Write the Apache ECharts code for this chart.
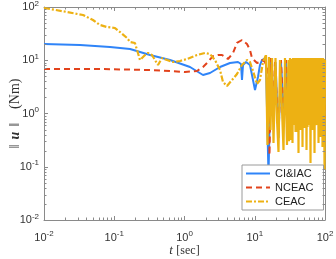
<!DOCTYPE html>
<html><head><meta charset="utf-8">
<script src="https://cdn.jsdelivr.net/npm/echarts@6/dist/echarts.min.js"></script>
<style>html,body{margin:0;padding:0;background:#fff}#c{width:336px;height:259px}</style>
</head><body><div id="c"></div><script>
// ---- data (t in sec, ||u|| in Nm) ----
const seriesNames = ['CI&IAC', 'NCEAC', 'CEAC'];
const blueT = [0.01, 0.0326, 0.087, 0.121, 0.168, 0.323, 0.622, 1.198, 1.834, 2.307, 3.202, 4.443, 5.775, 6.372, 6.583, 6.802, 7.505, 8.557, 9.443, 10.08, 11.12, 11.87, 12.68, 13.54, 14.45, 15.69, 17.03, 18.19, 19.74, 21.78, 23.64, 26.08, 27.85, 29.26, 30.72, 32.8, 35.0, 37.4, 39.95, 42.66, 45.55, 48.64, 51.93, 55.45, 59.21, 63.22, 67.51, 72.09, 76.98, 82.2, 87.71, 93.66, 100];
const blueU = [20.2, 19.3, 17.7, 17.0, 16.3, 12.55, 10.1, 7.47, 5.28, 5.76, 7.47, 8.88, 9.27, 8.51, 4.26, 8.14, 9.27, 8.14, 4.26, 2.76, 4.84, 8.14, 10.1, 10.55, 9.27, 0.070, 10.1, 0.937, 9.27, 0.347, 9.27, 0.755, 10.1, 0.49, 9.27, 0.608, 10.1, 0.755, 9.27, 0.534, 10.1, 0.692, 9.27, 0.582, 10.1, 0.755, 9.27, 0.608, 10.1, 0.823, 9.27, 0.635, 10.1];
const redT = [0.01, 0.0627, 0.323, 0.622, 1.016, 1.507, 1.834, 2.091, 2.544, 2.999, 3.419, 4.161, 4.902, 5.588, 6.583, 7.756, 8.557, 9.14, 10.77, 11.87, 12.68, 13.99, 15.44, 16.22, 17.03, 18.19, 19.42, 21.78, 23.64, 25.66, 27.85, 29.26, 30.72, 32.8, 35.0, 37.4, 39.95, 41.28, 42.66, 45.55, 48.64, 51.93, 55.45, 59.21, 63.22, 67.51, 72.09, 76.98, 82.2, 87.71, 93.66, 100];
const redU = [6.85, 6.85, 6.56, 6.28, 6.02, 6.28, 7.47, 8.88, 12.0, 12.55, 12.55, 10.55, 13.7, 21.1, 24.0, 20.2, 15.6, 11.0, 8.88, 9.27, 10.1, 9.27, 6.02, 0.166, 11.0, 1.16, 9.27, 0.395, 10.1, 0.755, 10.1, 0.49, 10.1, 0.755, 9.27, 0.692, 10.1, 0.49, 9.27, 0.823, 10.1, 0.755, 9.27, 0.823, 10.1, 0.755, 9.27, 0.823, 10.1, 0.755, 9.27, 0.823];
// CEAC: smooth part (dash-dot) and fast-oscillating tail
const yellowT = [0.01, 0.0213, 0.0359, 0.0498, 0.0627, 0.0788, 0.1025, 0.121, 0.152, 0.168, 0.197, 0.211, 0.2325, 0.248, 0.274, 0.302, 0.3446, 0.380, 0.4196, 0.478, 0.564, 0.686, 0.863, 1.085, 1.507, 1.958, 2.307, 2.718, 3.202, 3.532, 4.027, 4.746, 5.588, 6.583, 7.756, 8.557, 9.443, 10.77, 11.87, 13.10, 14.45];
const yellowU = [95.8, 80.6, 70.7, 57.0, 45.9, 42.1, 40.3, 33.9, 26.2, 22.0, 21.1, 15.6, 10.1, 9.27, 12.55, 13.7, 12.55, 10.1, 8.14, 11.0, 10.1, 9.27, 9.68, 10.55, 12.55, 13.7, 13.1, 10.1, 6.56, 3.91, 3.29, 4.26, 5.52, 8.14, 10.1, 9.27, 6.28, 3.58, 4.26, 9.27, 12.55];
const yellowTailT = [14.45, 15.19, 15.95, 16.76, 17.61, 18.49, 19.74, 20.74, 21.78, 22.88, 24.43, 25.66, 26.95, 28.78, 30.22, 30.72, 31.75, 32.27, 32.8, 33.35, 33.9, 34.46, 35.03, 35.61, 36.2, 36.8, 37.41, 38.03, 38.66, 39.3, 39.95, 40.61, 41.28, 41.96, 42.66, 43.37, 44.08, 44.81, 45.55, 46.3, 47.07, 47.85, 48.63, 49.44, 50.26, 51.09, 51.93, 52.79, 53.66, 54.55, 55.45, 56.37, 57.3, 58.25, 59.19, 60.19, 61.18, 62.19, 63.2, 64.27, 65.33, 66.41, 67.49, 68.63, 69.76, 70.91, 72.06, 73.28, 74.49, 75.72, 76.98, 78.25, 79.55, 80.86, 82.14, 83.5, 84.88, 86.29, 87.7, 89.16, 90.64, 92.14, 93.65, 95.2, 96.78, 98.4, 100];
const yellowTailU = [12.55, 0.256, 11.5, 0.49, 11.0, 0.279, 11.0, 0.755, 0.189, 10.1, 1.16, 0.206, 11.0, 0.256, 10.1, 0.3, 11.0, 0.318, 10.1, 0.66, 10.55, 0.279, 11.0, 0.7, 10.1, 0.608, 11.0, 0.45, 10.55, 0.72, 11.0, 0.449, 10.1, 0.181, 11.0, 0.62, 10.55, 0.49, 11.0, 0.7, 10.1, 0.235, 11.0, 0.6, 10.55, 0.534, 11.0, 0.68, 10.1, 0.206, 11.0, 0.56, 10.55, 0.608, 11.0, 0.7, 10.1, 0.1176, 11.0, 0.55, 10.55, 0.49, 11.0, 0.65, 10.1, 0.181, 11.0, 0.6, 10.55, 0.608, 11.0, 0.7, 10.1, 0.279, 11.0, 0.55, 10.55, 0.362, 11.0, 0.65, 10.1, 0.235, 11.0, 0.6, 10.55, 0.087, 10.1];
const xRange = [0.01, 100];
const yRange = [0.01, 100];
const decadeStarts = [0.01, 0.1, 1, 10];
const minorMultipliers = [2, 3, 4, 5, 6, 7, 8, 9];

const zip = (a, b) => a.map((v, i) => [v, b[i]]);
const axisColor = '#8a8a8a';
const labelColor = '#333';
const sans = 'Liberation Sans, Arial, sans-serif';
const serif = 'Liberation Serif, DejaVu Serif, serif';
const colors = ['#2f84f8', '#e2431c', '#edb113'];
function powLabel(v) { const e = Math.round(Math.log10(v)); return '{b|10}{s|' + e + '}'; }
const rich = {
  b: { fontSize: 11, fontFamily: sans, color: labelColor },
  s: { fontSize: 8, fontFamily: sans, color: labelColor, padding: [0, 0, 7, 0] }
};
function mkAxis(pos, range, showLabel, extra) {
  return Object.assign({
    type: 'log', logBase: 10, min: range[0], max: range[1], splitNumber: 4, position: pos,
    nameMoveOverlap: false,
    axisLine: { show: true, onZero: false, lineStyle: { color: axisColor, width: 1 } },
    axisTick: { show: true, inside: true, length: 4, lineStyle: { color: axisColor } },
    axisLabel: { show: showLabel, formatter: powLabel, rich: rich, margin: pos === 'bottom' ? 10 : 5 },
    splitLine: { show: false }, minorTick: { show: false }
  }, extra || {});
}

const chart = echarts.init(document.getElementById('c'), null, { renderer: 'canvas' });
const option = {
  animation: false,
  backgroundColor: '#fff',
  grid: { left: 44, right: 11, top: 7, bottom: 39, containLabel: false, outerBoundsMode: 'none' },
  xAxis: [
    mkAxis('bottom', xRange, true, {
      name: '{i|t} {n|[sec]}', nameLocation: 'middle', nameGap: 24,
      nameTextStyle: { rich: { i: { fontFamily: serif, fontStyle: 'italic', fontSize: 13, color: '#333' }, n: { fontFamily: serif, fontSize: 12, color: '#333' } } }
    }),
    mkAxis('top', xRange, false)
  ],
  yAxis: [
    mkAxis('left', yRange, true, {
      name: '{n|‖}{i|u}{n|‖}{g| }{n|(Nm)}', nameLocation: 'middle', nameGap: 22, nameRotate: 90,
      nameTextStyle: { rich: {
        i: { fontFamily: serif, fontStyle: 'italic', fontWeight: 'bold', fontSize: 14, color: '#333', padding: [0, 5] },
        n: { fontFamily: serif, fontSize: 14, color: '#333' },
        g: { fontSize: 14, padding: [0, 5] } } }
    }),
    mkAxis('right', yRange, false)
  ],
  legend: {
    orient: 'vertical', left: 242, top: 165, backgroundColor: '#fff',
    borderColor: '#9a9a9a', borderWidth: 1, borderRadius: 0, padding: [3, 10, 3, 3],
    itemGap: 3, itemWidth: 24, itemHeight: 12,
    itemStyle: { opacity: 0 },
    textStyle: { fontSize: 11, fontFamily: sans, color: '#222' },
    data: seriesNames
  },
  series: [
    { name: seriesNames[0], type: 'line', symbol: 'none', data: zip(blueT, blueU),
      lineStyle: { color: colors[0], width: 2 }, itemStyle: { color: colors[0] } },
    { name: seriesNames[1], type: 'line', symbol: 'none', data: zip(redT, redU),
      lineStyle: { color: colors[1], width: 2, type: [6, 4] }, itemStyle: { color: colors[1] } },
    { name: seriesNames[2], type: 'line', symbol: 'none', data: zip(yellowT, yellowU),
      lineStyle: { color: colors[2], width: 2.2, type: [6, 2, 2, 2] }, itemStyle: { color: colors[2] } },
    { name: seriesNames[2], type: 'line', symbol: 'none', data: zip(yellowTailT, yellowTailU),
      lineStyle: { color: colors[2], width: 2.2 }, itemStyle: { color: colors[2] } }
  ]
};
chart.setOption(option);

// minor ticks placed through the axes' own scales
const els = [];
const yBot = chart.convertToPixel({ yAxisIndex: 0 }, yRange[0]);
const yTop = chart.convertToPixel({ yAxisIndex: 0 }, yRange[1]);
const xL = chart.convertToPixel({ xAxisIndex: 0 }, xRange[0]);
const xR = chart.convertToPixel({ xAxisIndex: 0 }, xRange[1]);
const ml = 2.5;
decadeStarts.forEach(d => minorMultipliers.forEach(m => {
  const v = d * m;
  const px = Math.round(chart.convertToPixel({ xAxisIndex: 0 }, v)) + 0.5;
  const py = Math.round(chart.convertToPixel({ yAxisIndex: 0 }, v)) + 0.5;
  const st = { stroke: axisColor, lineWidth: 1 };
  els.push({ type: 'line', shape: { x1: px, y1: yBot, x2: px, y2: yBot - ml }, style: st, z: 10 });
  els.push({ type: 'line', shape: { x1: px, y1: yTop, x2: px, y2: yTop + ml }, style: st, z: 10 });
  els.push({ type: 'line', shape: { x1: xL, y1: py, x2: xL + ml, y2: py }, style: st, z: 10 });
  els.push({ type: 'line', shape: { x1: xR, y1: py, x2: xR - ml, y2: py }, style: st, z: 10 });
}));
chart.setOption({ graphic: els });
</script></body></html>
